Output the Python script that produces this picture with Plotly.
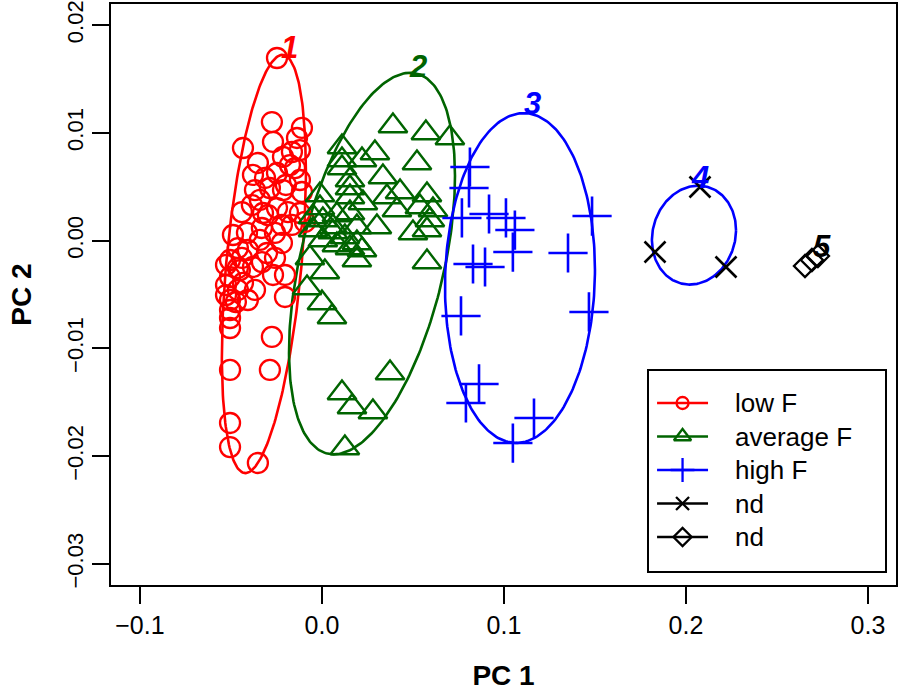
import numpy as np
import plotly.graph_objs as go

# PCA scores
low_x = [-0.0247, -0.0275, -0.0110, -0.0137, -0.0434, -0.0269, -0.0352, -0.0214, -0.0165, -0.0121,
         -0.0176, -0.0379, -0.0313, -0.0247, -0.0148, -0.0121, -0.0368, -0.0286, -0.0214, -0.0110,
         -0.0440, -0.0324, -0.0247, -0.0121, -0.0187, -0.0385, -0.0489, -0.0412, -0.0341, -0.0258,
         -0.0220, -0.0505, -0.0440, -0.0379, -0.0302, -0.0258, -0.0203, -0.0269, -0.0505, -0.0434,
         -0.0368, -0.0203, -0.0505, -0.0505, -0.0505, -0.0505, -0.0275, -0.0505, -0.0286, -0.0505,
         -0.0505, -0.0352, -0.0462, -0.0407, -0.0462, -0.0330, -0.0165, -0.0093, -0.0462, -0.0407,
         -0.0330, -0.0297, -0.0220, -0.0473, -0.0451, -0.0527, -0.0527, -0.0527, -0.0198, -0.0341]
low_y = [0.01694, 0.01100, 0.01045, 0.00952, 0.00859, 0.00915, 0.00720, 0.00776, 0.00822, 0.00840,
         0.00701, 0.00609, 0.00581, 0.00627, 0.00673, 0.00562, 0.00469, 0.00488, 0.00469, 0.00451,
         0.00265, 0.00256, 0.00302, 0.00256, 0.00265, 0.00330, 0.00052, 0.00071, 0.00006, 0.00071,
         -0.00022, -0.00180, -0.00161, -0.00245, -0.00115, -0.00161, -0.00319, -0.00319, -0.00338, -0.00393,
         -0.00458, -0.00523, -0.00551, -0.00644, -0.00718, -0.00811, -0.00894, -0.01200, -0.01200, -0.01692,
         -0.01915, -0.02063, -0.00069, -0.00087, -0.00254, 0.00117, 0.00145, 0.00173, -0.00458, -0.00551,
         -0.00199, 0.00237, 0.00145, -0.00570, -0.00273, -0.00412, -0.00226, -0.00505, 0.00516, 0.00377]

avg_x = [0.0390, 0.0571, 0.0703, 0.0110, 0.0291, 0.0522, 0.0110, 0.0220, 0.0110, 0.0335,
         0.0154, 0.0429, 0.0154, 0.0577, -0.0011, 0.0357, 0.0154, 0.0225, 0.0538, 0.0610,
         0.0412, -0.0011, -0.0049, 0.0082, 0.0154, 0.0593, 0.0005, 0.0302, 0.0060, 0.0192,
         0.0577, -0.0049, 0.0060, 0.0126, 0.0192, 0.0005, 0.0082, 0.0154, 0.0220, 0.0500,
         -0.0066, 0.0016, 0.0192, 0.0577, -0.0082, 0.0000, 0.0055, 0.0374, 0.0110, 0.0165,
         0.0280, 0.0126]
avg_y = [0.01063, 0.00998, 0.00952, 0.00868, 0.00813, 0.00720, 0.00748, 0.00748, 0.00673, 0.00590,
         0.00562, 0.00451, 0.00488, 0.00423, 0.00423, 0.00404, 0.00404, 0.00349, 0.00312, 0.00284,
         0.00284, 0.00302, 0.00219, 0.00237, 0.00256, 0.00191, 0.00191, 0.00126, 0.00126, 0.00126,
         0.00098, 0.00098, 0.00080, 0.00033, -0.00022, 0.00006, -0.00041, -0.00069, -0.00087, 0.00071,
         -0.00161, -0.00291, -0.00180, -0.00199, -0.00440, -0.00579, -0.00709, -0.01228, -0.01414, -0.01544,
         -0.01590, -0.01924]

high_x = [0.0813, 0.0808, 0.0769, 0.0918, 0.1011, 0.1060, 0.1484, 0.1049, 0.1352, 0.0830,
          0.0896, 0.1467, 0.0764, 0.0863, 0.0791, 0.1165, 0.1049]
high_y = [0.00683, 0.00488, 0.00210, 0.00247, 0.00210, 0.00098, 0.00228, -0.00106, -0.00115, -0.00217,
          -0.00245, -0.00662, -0.00699, -0.01330, -0.01506, -0.01646, -0.01878]

nd1_x = [0.2077, 0.1830, 0.2220]
nd1_y = [0.00497, -0.00106, -0.00245]

nd2_x = [0.2654, 0.2692, 0.2725]
nd2_y = [-0.00236, -0.00180, -0.00143]

# cluster ellipses: centre, half width, half height, correlation
ell_cx = [-0.0319, 0.0275, 0.1088, 0.2044]
ell_cy = [-0.00217, -0.00213, -0.00347, 0.00051]
ell_a = [0.0231, 0.0456, 0.0412, 0.0231]
ell_b = [0.0194, 0.0177, 0.0153, 0.00459]
ell_rho = [0.44, 0.46, 0.05, 0.10]
ell_col = ['red', 'darkgreen', 'blue', 'blue']

# cluster numbers
lab_text = ['1', '2', '3', '4', '5']
lab_x = [-0.0181, 0.0527, 0.1159, 0.2077, 0.2747]
lab_y = [0.01795, 0.01619, 0.01276, 0.00581, -0.00059]
lab_col = ['red', 'darkgreen', 'blue', 'blue', 'black']

leg_names = ['low F', 'average F', 'high F', 'nd', 'nd']

x_ticks = [-0.1, 0.0, 0.1, 0.2, 0.3]
x_labels = ['\u22120.1', '0.0', '0.1', '0.2', '0.3']
y_ticks = [-0.03, -0.02, -0.01, 0.0, 0.01, 0.02]
y_labels = ['\u22120.03', '\u22120.02', '\u22120.01', '0.00', '0.01', '0.02']

fig = go.Figure()

#Ellipses
t = np.linspace(0, 2 * np.pi, 240)
for cx, cy, a, b, r, c in zip(ell_cx, ell_cy, ell_a, ell_b, ell_rho, ell_col):
    d = np.arccos(r)
    fig.add_trace(go.Scatter(x=cx + a * np.cos(t), y=cy + b * np.cos(t - d), mode='lines',
                             line=dict(color=c, width=2.6), showlegend=False, hoverinfo='skip'))

#Points
groups = [
    (low_x, low_y, 'red', 'circle-open', 20, 2.3, 12),
    (avg_x, avg_y, 'darkgreen', 'triangle-up-open', 25, 2.4, 15),
    (high_x, high_y, 'blue', 'cross-thin-open', 28, 2.6, 17),
    (nd1_x, nd1_y, 'black', 'x-thin-open', 21, 2.6, 13),
    (nd2_x, nd2_y, 'black', 'diamond-open', 17, 2.3, 14),
]
for gx, gy, c, sym, sz, lw, lsz in groups:
    fig.add_trace(go.Scatter(x=gx, y=gy, mode='markers', showlegend=False,
                             marker=dict(symbol=sym, size=sz, color=c, line=dict(color=c, width=lw))))

#Cluster labels
for s, x, y, c in zip(lab_text, lab_x, lab_y, lab_col):
    fig.add_annotation(x=x, y=y, text='<b><i>' + s + '</i></b>', showarrow=False,
                       font=dict(size=31, color=c, family='Liberation Sans'))

#Legend drawn in its own small box (R style)
for i, ((gx, gy, c, sym, sz, lw, lsz), nm) in enumerate(zip(groups, leg_names)):
    ry = 0.84 - i * 0.1675
    fig.add_trace(go.Scatter(x=[0.034, 0.25], y=[ry, ry], mode='lines', xaxis='x2', yaxis='y2',
                             line=dict(color=c, width=2.6), showlegend=False, hoverinfo='skip'))
    fig.add_trace(go.Scatter(x=[0.142], y=[ry], mode='markers', xaxis='x2', yaxis='y2',
                             marker=dict(symbol=sym, size=lsz, color=c, line=dict(color=c, width=2.3)),
                             showlegend=False, hoverinfo='skip'))
    fig.add_annotation(x=0.356, y=ry, xref='x2', yref='y2', text=nm, showarrow=False,
                       xanchor='left', font=dict(size=26, color='black'))

fig.update_layout(
    width=898, height=699,
    margin=dict(l=111, r=2, t=4, b=114),
    plot_bgcolor='white', paper_bgcolor='white',
    font=dict(family='Liberation Sans', size=25, color='black'),
    showlegend=False,
    xaxis=dict(
        title=dict(text='<b>PC 1</b>', font=dict(size=28), standoff=27),
        range=[-0.1159, 0.3154], tickvals=x_ticks, ticktext=x_labels,
        tickfont=dict(size=25),
        ticks='outside', ticklen=17, tickwidth=2, tickcolor='black',
        showline=True, linewidth=2, linecolor='black', mirror=True,
        showgrid=False, zeroline=False, automargin=False, ticklabeloverflow='allow'),
    yaxis=dict(
        title=dict(text='<b>PC 2</b>', font=dict(size=28), standoff=23),
        range=[-0.03195, 0.02195], tickvals=y_ticks, ticktext=y_labels, tickangle=-90,
        tickfont=dict(size=22),
        ticks='outside', ticklen=17, tickwidth=2, tickcolor='black',
        showline=True, linewidth=2, linecolor='black', mirror=True,
        showgrid=False, zeroline=False, automargin=False, ticklabeloverflow='allow'),
    xaxis2=dict(domain=[0.6854, 0.986], range=[0, 1], anchor='y2', showticklabels=False,
                ticks='', showgrid=False, zeroline=False, showline=True, mirror=True,
                linewidth=2, linecolor='black', fixedrange=True),
    yaxis2=dict(domain=[0.0241, 0.3683], range=[0, 1], anchor='x2', showticklabels=False,
                ticks='', showgrid=False, zeroline=False, showline=True, mirror=True,
                linewidth=2, linecolor='black', fixedrange=True),
)
# white fill behind the legend box
fig.add_shape(type='rect', xref='x2 domain', yref='y2 domain', x0=0, x1=1, y0=0, y1=1,
              fillcolor='white', line=dict(width=0), layer='below')

# drop the page's default body margin so the figure sits at the window corner
fig.write_html("out.html", config={'displayModeBar': False},
               post_script="document.body.style.margin='0';")
